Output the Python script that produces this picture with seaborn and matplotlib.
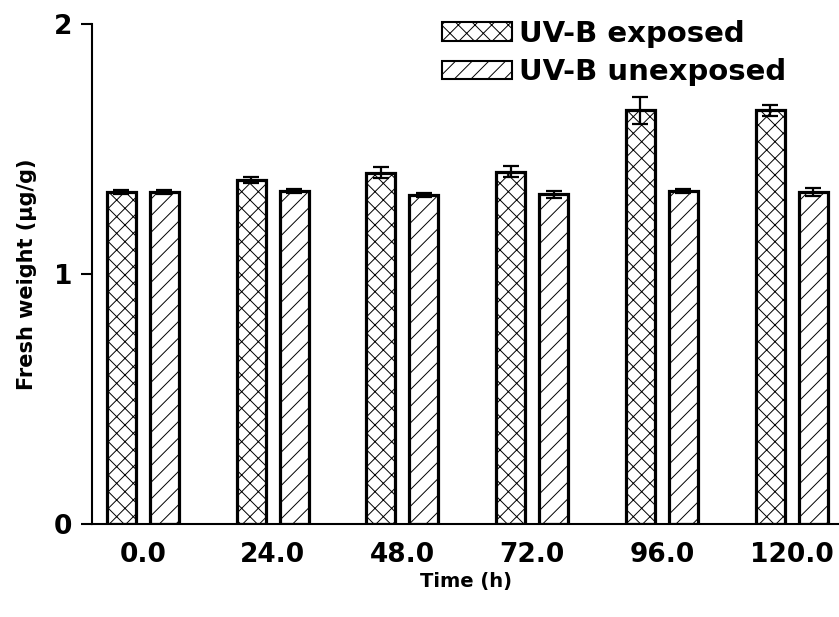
import numpy as np
import pandas as pd
import matplotlib
matplotlib.use("Agg")
import matplotlib.pyplot as plt
from matplotlib.patches import Patch
import seaborn as sns

times = ["0.0", "24.0", "48.0", "72.0", "96.0", "120.0"]
groups = ["UV-B exposed", "UV-B unexposed"]
exposed = [1.33, 1.375, 1.405, 1.41, 1.655, 1.655]
exposed_err = [0.008, 0.012, 0.022, 0.022, 0.053, 0.022]
unexposed = [1.33, 1.332, 1.318, 1.32, 1.332, 1.328]
unexposed_err = [0.008, 0.008, 0.008, 0.014, 0.008, 0.016]
yticks = [0, 1, 2]

df = pd.DataFrame({
    "Time": times * 2,
    "Group": [groups[0]] * len(times) + [groups[1]] * len(times),
    "value": exposed + unexposed,
})

sns.set_theme(style="ticks")
plt.rcParams['font.family'] = ['DejaVu Sans']
plt.rcParams['hatch.color'] = '#6a6a6a'
plt.rcParams['hatch.linewidth'] = 0.7
for k in ['text.color', 'axes.labelcolor', 'xtick.color', 'ytick.color']:
    plt.rcParams[k] = 'black'

W, H = 839, 617
fig = plt.figure(figsize=(W / 100, H / 100), dpi=100)
ax = fig.add_axes([92 / W, 93 / H, (W - 92) / W, (524 - 24) / H])

sns.barplot(data=df, x="Time", y="value", hue="Group", order=times,
            hue_order=groups, palette=["white", "white"], edgecolor="black",
            linewidth=2.3, width=0.663, gap=0.325, errorbar=None,
            legend=False, ax=ax)

hatches = ["xx", "//"]
for cont, h, errs in zip(ax.containers, hatches, [exposed_err, unexposed_err]):
    xs, ys = [], []
    for bar in cont:
        bar.set_hatch(h)
        bar.set_facecolor("white")
        xs.append(bar.get_x() + bar.get_width() / 2)
        ys.append(bar.get_height())
    ax.errorbar(xs, ys, yerr=errs, fmt='none', ecolor='black',
                elinewidth=1.6, capsize=6, capthick=1.6, zorder=5)

ax.set_ylim(0, 2)
ax.set_xlim(-0.393, 5.366)
ax.set_yticks(yticks)
ax.set_yticklabels([str(t) for t in yticks], fontsize=19, fontweight='bold')
ax.tick_params(axis='y', length=8, width=1.5, pad=6)
ax.tick_params(axis='x', length=0, pad=13, labelsize=19)
for lab in ax.get_xticklabels():
    lab.set_fontweight('bold')
ax.set_xlabel("Time (h)", fontsize=14, fontweight='bold', labelpad=3)
ax.set_ylabel("Fresh weight (µg/g)", fontsize=15, fontweight='bold', labelpad=12)
for s in ["top", "right"]:
    ax.spines[s].set_visible(False)
for s in ["left", "bottom"]:
    ax.spines[s].set_linewidth(1.5)
    ax.spines[s].set_color("black")

handles = [Patch(facecolor="white", edgecolor="black", hatch=h, linewidth=1.5)
           for h in hatches]
ax.legend(handles, groups, loc="upper left", bbox_to_anchor=(442 / W, 1 - 20 / H),
          bbox_transform=fig.transFigure, frameon=False,
          prop={'weight': 'bold', 'size': 21}, handlelength=2.4,
          handleheight=0.6, handletextpad=0.25, labelspacing=0.35,
          borderaxespad=0, borderpad=0)

fig.savefig("out.png", dpi=100)
